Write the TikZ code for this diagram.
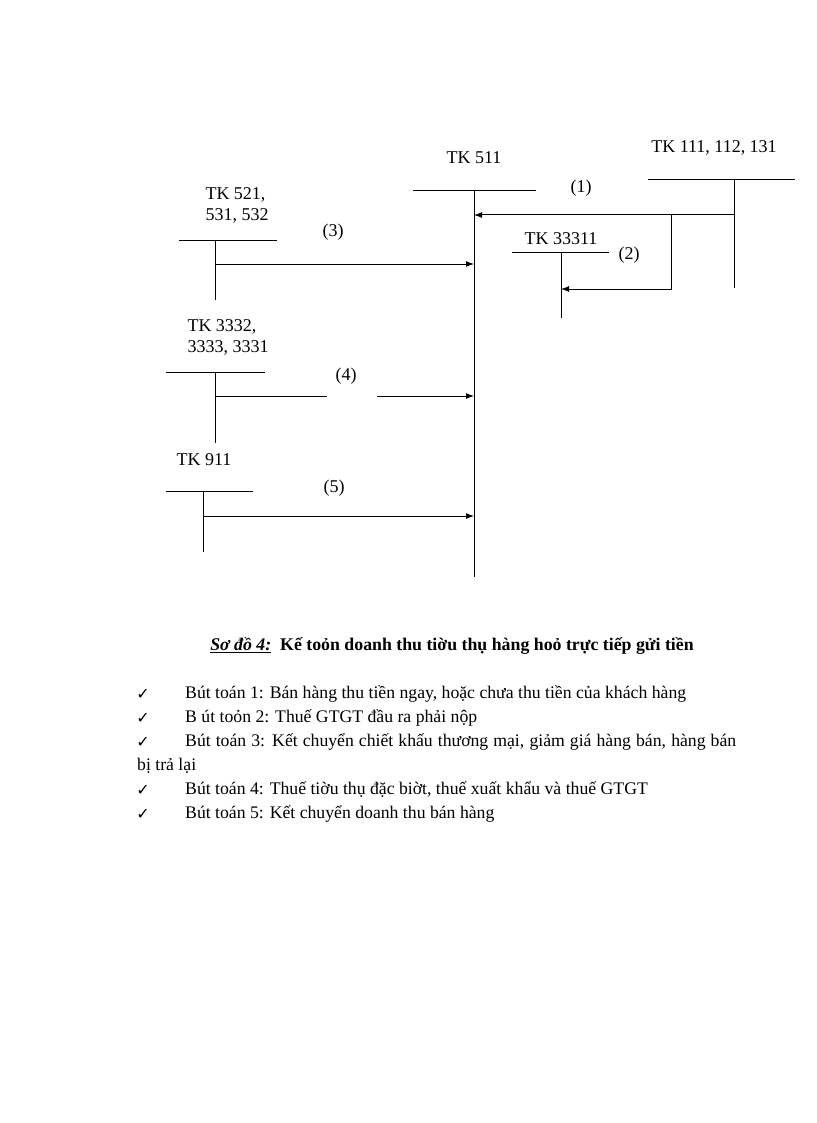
\documentclass[tikz,border=0pt]{standalone}
\usepackage{fontspec}
\setmainfont{Liberation Serif}
\newfontfamily\checkfont{DejaVu Sans}
\usetikzlibrary{arrows.meta}

\begin{document}
\begin{tikzpicture}[x=1pt,y=-1pt,
		tkline/.style={line width=1pt},
		tkarrow/.style={line width=1pt,-{Latex[length=8pt,width=6pt]}},
		tklabel/.style={font=\fontsize{18}{21}\selectfont, align=left, inner sep=0pt},
		numlabel/.style={font=\fontsize{18}{21}\selectfont, inner sep=0pt},
		tickmark/.style={font=\checkfont\fontsize{16}{19}\selectfont, inner sep=0pt},
		butline/.style={font=\fontsize{17.7}{21}\selectfont, anchor=west, inner sep=0pt}
	]
	\useasboundingbox (0,0) rectangle (816,1123);

	% TK 511
	\node[tklabel] (l511) at (474,158) {TK 511};
	\coordinate (t511) at (474,191);
	\coordinate (b511) at (474,577);
	\draw[tkline] (413,191) -- (536,191);
	\draw[tkline] (t511) -- (b511);

	% TK 111, 112, 131
	\node[tklabel] (l111) at (714,148) {TK 111, 112, 131};
	\coordinate (t111) at (734,180);
	\coordinate (b111) at (734,288);
	\draw[tkline] (648,180) -- (795,180);
	\draw[tkline] (t111) -- (b111);

	% TK 33311
	\node[tklabel] (l333) at (561,239) {TK 33311};
	\coordinate (t333) at (561,252);
	\coordinate (b333) at (561,318);
	\draw[tkline] (512,252) -- (609,252);
	\draw[tkline] (t333) -- (b333);

	% TK 521, 531, 532
	\node[tklabel] (l521) at (237,205) {TK 521,\\531, 532};
	\coordinate (t521) at (215,240);
	\coordinate (b521) at (215,300);
	\draw[tkline] (179,240) -- (277,240);
	\draw[tkline] (t521) -- (b521);

	% TK 3332, 3333, 3331
	\node[tklabel] (l3332) at (228,337) {TK 3332,\\3333, 3331};
	\coordinate (t3332) at (215,372);
	\coordinate (b3332) at (215,443);
	\draw[tkline] (166,372) -- (265,372);
	\draw[tkline] (t3332) -- (b3332);

	% TK 911
	\node[tklabel] (l911) at (204,460) {TK 911};
	\coordinate (t911) at (203,491);
	\coordinate (b911) at (203,552);
	\draw[tkline] (166,491) -- (253,491);
	\draw[tkline] (t911) -- (b911);

	% (1)
	\coordinate (s1) at (734,215);
	\coordinate (e1) at (474,215);
	\draw[tkarrow] (s1) -- (e1);
	\node[numlabel] (n1) at (581,188) {(1)};

	% (2)
	\coordinate (s2) at (671,215);
	\coordinate (k2) at (671,289);
	\coordinate (e2) at (561,289);
	\draw[tkarrow] (s2) -- (k2) -- (e2);
	\node[numlabel] (n2) at (629,255) {(2)};

	% (3)
	\coordinate (s3) at (215,264);
	\coordinate (e3) at (474,264);
	\draw[tkarrow] (s3) -- (e3);
	\node[numlabel] (n3) at (333,232) {(3)};

	% (4)
	\coordinate (s4) at (215,396);
	\coordinate (g4a) at (327,396);
	\coordinate (g4b) at (377,396);
	\coordinate (e4) at (474,396);
	\draw[tkline] (s4) -- (g4a);
	\draw[tkarrow] (g4b) -- (e4);
	\node[numlabel] (n4) at (346,376) {(4)};

	% (5)
	\coordinate (s5) at (203,516);
	\coordinate (e5) at (474,516);
	\draw[tkarrow] (s5) -- (e5);
	\node[numlabel] (n5) at (334,488) {(5)};

	\node[font=\fontsize{17.8}{21}\selectfont, inner sep=0pt] (cap) at (452,646)
		{\textbf{\textit{\underline{Sơ đồ 4:}}}\ \ \textbf{Kế toỏn doanh thu tiờu thụ hàng hoỏ trực tiếp gửi tiền}};

	\node[tickmark] (c1) at (143,694) {✓};
	\node[tickmark] (c2) at (143,718) {✓};
	\node[tickmark] (c3) at (143,742) {✓};
	\node[tickmark] (c4) at (143,790) {✓};
	\node[tickmark] (c5) at (143,814) {✓};

	\node[butline] (b1) at (185,694) {Bút toán 1: Bán hàng thu tiền ngay, hoặc chưa thu tiền của khách hàng};
	\node[butline] (b2) at (185,718) {B út toỏn 2: Thuế GTGT đầu ra phải nộp};
	\node[butline] (b3) at (185,742) {\makebox[551pt][s]{Bút toán 3: Kết chuyển chiết khấu thương mại, giảm giá hàng bán, hàng bán}};
	\node[butline] (b3b) at (137,766) {bị trả lại};
	\node[butline] (b4) at (185,790) {Bút toán 4: Thuế tiờu thụ đặc biờt, thuế xuất khẩu và thuế GTGT};
	\node[butline] (b5) at (185,814) {Bút toán 5: Kết chuyển doanh thu bán hàng};
\end{tikzpicture}
\end{document}
